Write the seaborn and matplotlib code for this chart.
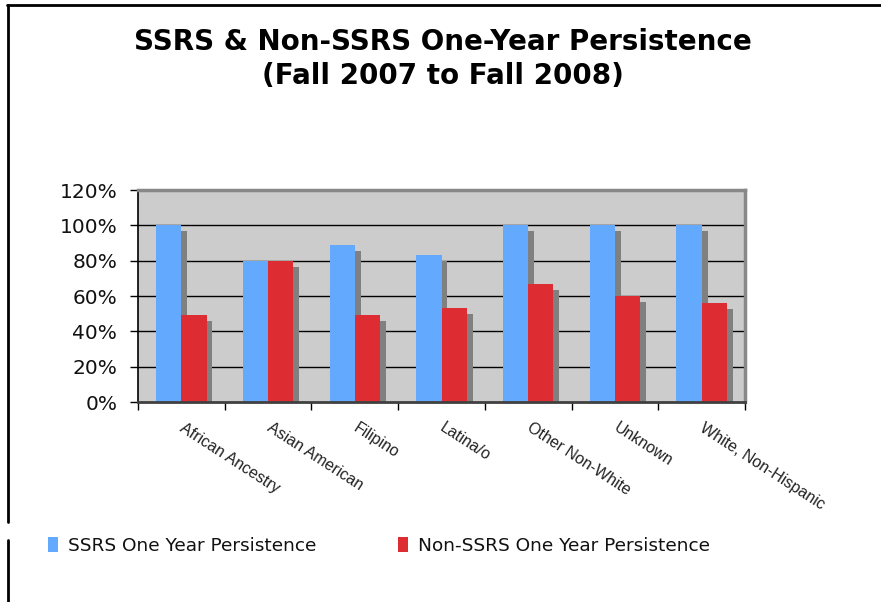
import matplotlib
matplotlib.use("Agg")
import matplotlib.pyplot as plt
import matplotlib.patheffects as pe
import matplotlib.transforms as mtrans
from matplotlib.lines import Line2D
from matplotlib.patches import Patch
from matplotlib.ticker import PercentFormatter, FixedLocator, NullFormatter
import seaborn as sns
import pandas as pd

categories = ["African Ancestry", "Asian American", "Filipino", "Latina/o",
              "Other Non-White", "Unknown", "White, Non-Hispanic"]
ssrs = [100, 80, 89, 83, 100, 100, 100]
non_ssrs = [49, 80, 49, 53, 67, 60, 56]
series_names = ["SSRS One Year Persistence", "Non-SSRS One Year Persistence"]
colors = ["#63AAFF", "#DD2D32"]
title = "SSRS & Non-SSRS One-Year Persistence\n(Fall 2007 to Fall 2008)"

df = pd.DataFrame({
    "cat": categories * 2,
    "val": ssrs + non_ssrs,
    "series": [series_names[0]] * len(categories) + [series_names[1]] * len(categories),
})

sns.set_theme(style="white")
plt.rcParams["font.family"] = ["DejaVu Sans"]

W, H = 881, 602
fig = plt.figure(figsize=(W / 100, H / 100), dpi=100)
fig.patch.set_facecolor("white")

ax = fig.add_axes([138 / W, 1 - 402 / H, (745 - 138) / W, (402 - 190) / H])
ax.set_facecolor("#CCCCCC")

sns.barplot(data=df, x="cat", y="val", hue="series", order=categories,
            hue_order=series_names, palette=colors, width=0.58,
            saturation=1, edgecolor="none", linewidth=0, ax=ax, legend=False)

shadow = pe.SimplePatchShadow(offset=(4.3, -4.3), shadow_rgbFace="#808080", alpha=1.0)
for p in ax.patches:
    p.set_path_effects([shadow, pe.Normal()])
    p.set_zorder(3)

ax.set_ylim(0, 120)
ax.set_xlim(-0.5, len(categories) - 0.5)
ax.yaxis.set_major_formatter(PercentFormatter(decimals=0))
ax.set_yticks([0, 20, 40, 60, 80, 100, 120])
for y in [20, 40, 60, 80, 100]:
    ax.axhline(y, color="black", lw=1.0, zorder=1)

ax.set_xlabel("")
ax.set_ylabel("")
ax.tick_params(axis="y", which="major", left=True, length=6, width=1, color="black",
               labelsize=14.5, pad=9, direction="out", labelcolor="#111111")
ax.tick_params(axis="x", which="major", bottom=False, length=0, pad=13)
ax.xaxis.set_minor_locator(FixedLocator([i - 0.5 for i in range(len(categories) + 1)]))
ax.xaxis.set_minor_formatter(NullFormatter())
ax.tick_params(axis="x", which="minor", bottom=True, length=6, width=1, color="black",
               direction="out")
ax.set_xticks(range(len(categories)))
ax.set_xticklabels(categories, rotation=-33, ha="left", va="top", rotation_mode="anchor",
                   fontsize=11.5, family=["Liberation Sans Narrow", "Liberation Sans"])
shift = mtrans.ScaledTranslation(4 / 100, 0, fig.dpi_scale_trans)
for lbl in ax.get_xticklabels():
    lbl.set_color("#222222")
    lbl.set_transform(lbl.get_transform() + shift)

ax.spines["left"].set_color("black")
ax.spines["left"].set_linewidth(1.2)
ax.spines["bottom"].set_color("#404040")
ax.spines["bottom"].set_linewidth(2)
ax.spines["top"].set_color("#888888")
ax.spines["top"].set_linewidth(2.5)
ax.spines["right"].set_color("#888888")
ax.spines["right"].set_linewidth(2.5)
for s in ax.spines.values():
    s.set_visible(True)
    s.set_zorder(5)

fig.text(443 / W, 1 - 59 / H, title, ha="center", va="center", fontsize=20,
         fontweight="bold", linespacing=1.3, color="black")

handles = [Patch(facecolor=c, edgecolor="none") for c in colors]
fig.legend(handles, series_names, loc="center left", bbox_to_anchor=(48 / W, 1 - 546 / H),
           ncol=2, frameon=False, fontsize=13.3, handlelength=0.55, handleheight=0.85,
           handletextpad=0.55, columnspacing=4.4, borderaxespad=0, borderpad=0,
           labelcolor="#111111")

# chart frame (partial border)
fig.add_artist(Line2D([7 / W, 1], [1 - 5 / H, 1 - 5 / H], color="black", lw=2,
                      transform=fig.transFigure))
fig.add_artist(Line2D([8 / W, 8 / W], [1 - 5 / H, 1 - 522 / H], color="black", lw=2,
                      transform=fig.transFigure))
fig.add_artist(Line2D([8 / W, 8 / W], [1 - 540 / H, 0], color="black", lw=2,
                      transform=fig.transFigure))

fig.savefig("out.png", dpi=100)
